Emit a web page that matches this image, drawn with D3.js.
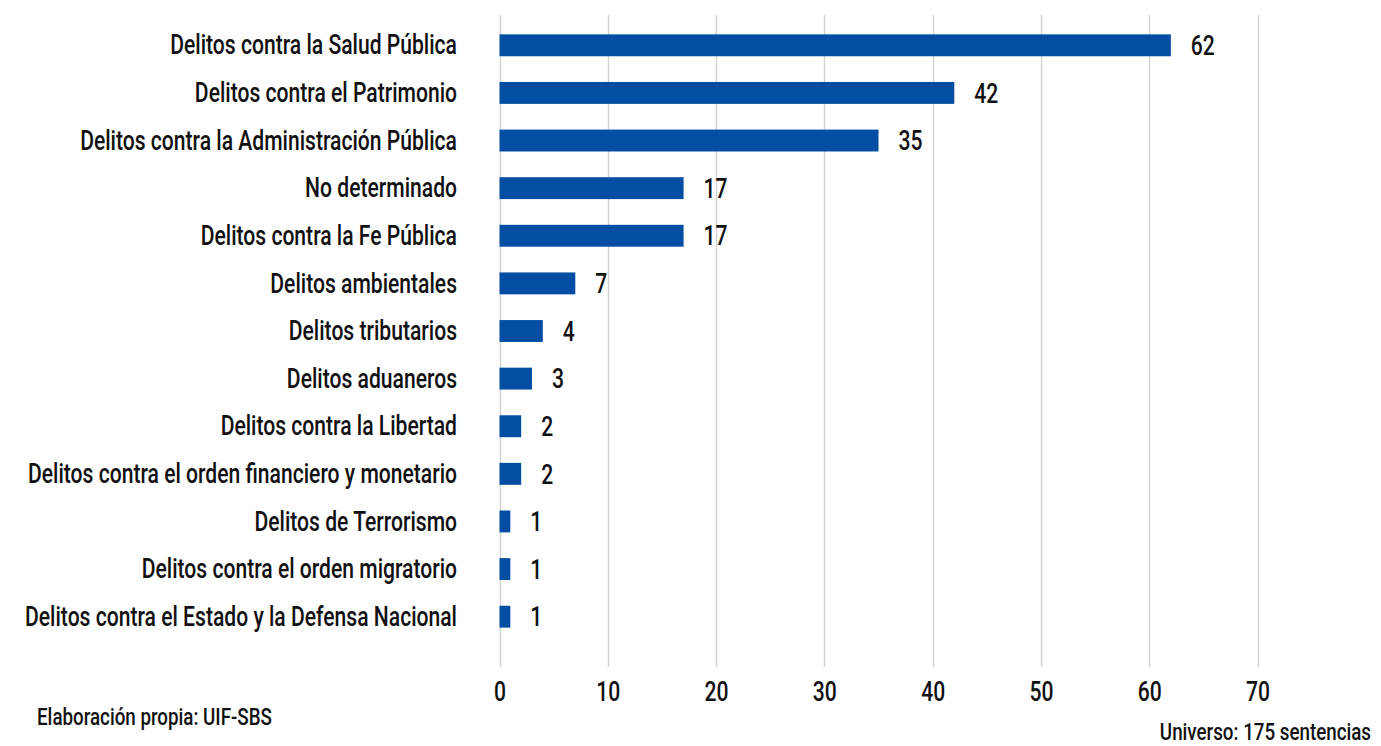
<!DOCTYPE html>
<html>
<head>
<meta charset="utf-8">
<script src="https://cdn.jsdelivr.net/npm/d3@7"></script>
<style>
  body { margin: 0; background: #fff; }
  text { font-family: Roboto, "DejaVu Sans Condensed", sans-serif; font-weight: 500; fill: #111; }
</style>
</head>
<body>
<div id="chart"></div>
<script>
// data
const categories = [
  'Delitos contra la Salud Pública',
  'Delitos contra el Patrimonio',
  'Delitos contra la Administración Pública',
  'No determinado',
  'Delitos contra la Fe Pública',
  'Delitos ambientales',
  'Delitos tributarios',
  'Delitos aduaneros',
  'Delitos contra la Libertad',
  'Delitos contra el orden financiero y monetario',
  'Delitos de Terrorismo',
  'Delitos contra el orden migratorio',
  'Delitos contra el Estado y la Defensa Nacional'
];
const values = [62, 42, 35, 17, 17, 7, 4, 3, 2, 2, 1, 1, 1];
const ticks = [0, 10, 20, 30, 40, 50, 60, 70];
const source = 'Elaboración propia: UIF-SBS';
const note = 'Universo: 175 sentencias';

// layout
const width = 1381;
const height = 746;
const barColor = '#034ea2';
const fontSize = 27;
const noteSize = 24;

const svg = d3.select('#chart').append('svg')
  .attr('width', width)
  .attr('height', height);

// the original uses a condensed face: squeeze the tall glyphs horizontally
const probe = svg.append('text').style('font-size', fontSize + 'px').text(categories[0]);
const squeeze = 287 / probe.node().getComputedTextLength();
probe.remove();

const x = d3.scaleLinear().domain([0, 70]).range([499.5, 1257.5]);
const y = d3.scaleBand().domain(categories).range([21.5, 640.5]).paddingInner(0.54).paddingOuter(0.27);

// gridlines
svg.append('g')
  .selectAll('line')
  .data(ticks)
  .enter()
  .append('line')
  .attr('x1', d => Math.round(x(d)) + 0.5)
  .attr('x2', d => Math.round(x(d)) + 0.5)
  .attr('y1', 15)
  .attr('y2', 667)
  .attr('stroke', '#d4d4d4')
  .attr('stroke-width', 1.5);

// bars
svg.append('g')
  .selectAll('rect')
  .data(values)
  .enter()
  .append('rect')
  .attr('x', x(0))
  .attr('y', (d, i) => y(categories[i]))
  .attr('width', d => x(d) - x(0))
  .attr('height', y.bandwidth())
  .attr('fill', barColor);

// value labels
svg.append('g')
  .selectAll('g')
  .data(values)
  .enter()
  .append('g')
  .attr('transform', (d, i) => `translate(${x(d) + 20},${y(categories[i]) + y.bandwidth() / 2})`)
  .append('text')
  .attr('transform', `scale(${squeeze},1)`)
  .attr('dy', '0.36em')
  .style('font-size', fontSize + 'px')
  .text(d => d);

// category labels
const yAxis = d3.axisLeft(y).tickSize(0).tickPadding(0);
const ya = svg.append('g')
  .attr('transform', 'translate(457,0)')
  .call(yAxis);
ya.select('.domain').remove();
ya.selectAll('text')
  .attr('transform', `scale(${squeeze},1)`)
  .attr('dy', '0.34em')
  .style('font-size', fontSize + 'px')
  .attr('fill', '#111');

// x axis labels
const xAxis = d3.axisBottom(x).tickValues(ticks).tickSize(0).tickPadding(0);
const xa = svg.append('g')
  .attr('transform', 'translate(0,682)')
  .call(xAxis);
xa.select('.domain').remove();
xa.selectAll('text')
  .attr('transform', `scale(${squeeze},1)`)
  .attr('dy', '0.72em')
  .style('font-size', fontSize + 'px')
  .attr('fill', '#111');
ya.attr('font-family', null).attr('font-size', null);
xa.attr('font-family', null).attr('font-size', null);

// footnotes
svg.append('g')
  .attr('transform', 'translate(37,725)')
  .append('text')
  .attr('transform', `scale(${squeeze},1)`)
  .style('font-size', noteSize + 'px')
  .text(source);

svg.append('g')
  .attr('transform', 'translate(1371,740)')
  .append('text')
  .attr('transform', `scale(${squeeze},1)`)
  .attr('text-anchor', 'end')
  .style('font-size', noteSize + 'px')
  .text(note);
</script>
</body>
</html>
